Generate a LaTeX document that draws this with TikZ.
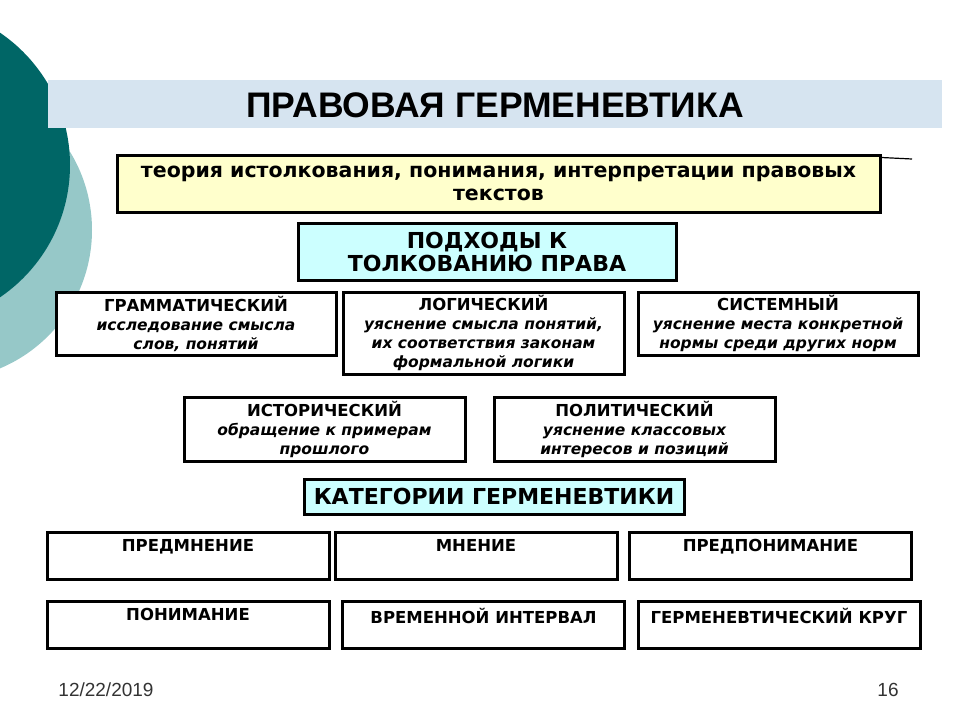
\documentclass[tikz,border=0pt]{standalone}
\usepackage{fontspec}
\setmainfont{DejaVu Sans}
\newfontfamily\titlefont{Liberation Sans}
\usetikzlibrary{positioning}

\definecolor{darkteal}{RGB}{0,102,102}
\definecolor{lightteal}{RGB}{150,200,200}
\definecolor{bandblue}{RGB}{214,228,240}
\definecolor{paleyellow}{RGB}{255,255,204}
\definecolor{palecyan}{RGB}{204,255,255}

\newcommand{\subline}[1]{{\fontsize{15.5}{19}\selectfont\itshape #1}}

\tikzset{
  box/.style={draw=black, line width=3pt, fill=white, align=center, inner sep=2pt,
    font=\bfseries\fontsize{16.5}{19}\selectfont},
  headbox/.style={box, fill=palecyan, font=\bfseries\fontsize{22}{23}\selectfont},
  catbox/.style={box, minimum width=282pt, minimum height=47pt},
  catlabel/.style={font=\bfseries\fontsize{16.5}{18}\selectfont},
  foot/.style={font=\titlefont\fontsize{19}{21}\selectfont, text=black!80},
}

\begin{document}
\begin{tikzpicture}[x=1pt,y=-1pt]
\useasboundingbox (0,0) rectangle (960,720);

% Decorative circles on the left
\fill[lightteal] (-58,230) circle (150);
\fill[darkteal] (-90,165) circle (160);

% Title band
\fill[bandblue] (48,80) rectangle (942,128);
\node[font=\titlefont\bfseries\fontsize{35.5}{38}\selectfont] (title) at (495,105) {ПРАВОВАЯ ГЕРМЕНЕВТИКА};

% Definition
\node[box, fill=paleyellow, minimum width=763pt, minimum height=57pt,
  font=\bfseries\fontsize{20.5}{23}\selectfont] (theory) at (498.5,183.5)
  {теория истолкования, понимания, интерпретации правовых\\текстов};
\coordinate (tail) at (912,159);
\draw[line width=1.2pt] ([yshift=-4pt]theory.north east) -- (tail);

% Approaches
\node[headbox, minimum width=378pt, minimum height=57pt] (approach) at (487,251.5)
  {ПОДХОДЫ К\\ТОЛКОВАНИЮ ПРАВА};

\node[box, minimum width=280pt, minimum height=63pt] (gram) at (196,323.5)
  {ГРАММАТИЧЕСКИЙ\\\subline{исследование смысла}\\\subline{слов, понятий}};
\node[box, minimum width=281pt, minimum height=82pt] (logic) at (483.5,333)
  {ЛОГИЧЕСКИЙ\\\subline{уяснение смысла понятий,}\\\subline{их соответствия законам}\\\subline{формальной логики}};
\node[box, minimum width=280pt, minimum height=63pt] (system) at (778,323.5)
  {СИСТЕМНЫЙ\\\subline{уяснение места конкретной}\\\subline{нормы среди других норм}};

\node[box, minimum width=281pt, minimum height=64pt] (hist) at (324.5,429)
  {ИСТОРИЧЕСКИЙ\\\subline{обращение к примерам}\\\subline{прошлого}};
\node[box, minimum width=281pt, minimum height=64pt] (polit) at (634.5,429)
  {ПОЛИТИЧЕСКИЙ\\\subline{уяснение классовых}\\\subline{интересов и позиций}};

% Categories
\node[headbox, minimum width=380pt, minimum height=35pt] (categ) at (494,496.5)
  {КАТЕГОРИИ ГЕРМЕНЕВТИКИ};

\foreach \name/\x/\y/\txt in {
    prejud/188/555.5/ПРЕДМНЕНИЕ,
    opinion/476/555.5/МНЕНИЕ,
    preund/770.5/555.5/ПРЕДПОНИМАНИЕ,
    underst/188/624.5/ПОНИМАНИЕ,
    interval/483.5/624.5/ВРЕМЕННОЙ ИНТЕРВАЛ,
    circle/779/624.5/ГЕРМЕНЕВТИЧЕСКИЙ КРУГ} {
  \node[catbox] (\name) at (\x,\y) {};
  \node[catlabel, anchor=north] (\name-txt) at ([yshift=-5pt]\name.north) {\txt};
}

% Footer
\node[foot] (date) at (106,690) {12/22/2019};
\node[foot] (page) at (888,690) {16};

\end{tikzpicture}
\end{document}
